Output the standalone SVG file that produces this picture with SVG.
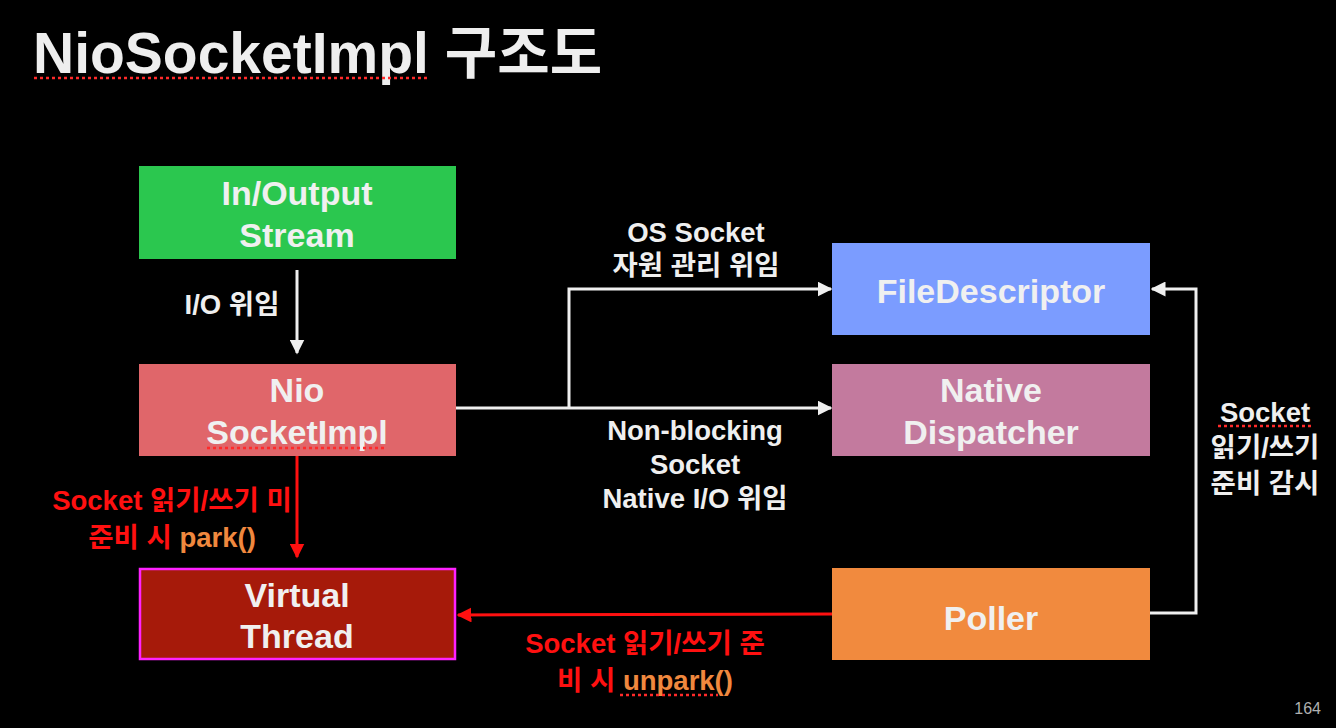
<svg xmlns="http://www.w3.org/2000/svg" width="1336" height="728" viewBox="0 0 1336 728">
<defs>
<style>
text{font-family:"Liberation Sans","Noto Sans CJK KR",sans-serif;font-weight:bold;}
.node{font-size:34px;fill:#f0f0f0;text-anchor:middle;}
.lbl{font-size:27.5px;fill:#efefef;text-anchor:middle;}
.red{font-size:27.5px;fill:#ff1010;text-anchor:middle;}
.org{fill:#f0883e;}
.wline{stroke:#efefef;stroke-width:3;fill:none;}
.rline{stroke:#ff1010;stroke-width:3;fill:none;}
.sq{stroke:#ff2a2a;stroke-width:2.5;stroke-dasharray:3 3;fill:none;}
</style>
<marker id="aw" viewBox="0 0 10 10" refX="9" refY="5" markerWidth="5" markerHeight="5" orient="auto" markerUnits="strokeWidth"><path d="M0,0 L10,5 L0,10 z" fill="#efefef"/></marker>
<marker id="ar" viewBox="0 0 10 10" refX="9" refY="5" markerWidth="5" markerHeight="5" orient="auto" markerUnits="strokeWidth"><path d="M0,0 L10,5 L0,10 z" fill="#ff1010"/></marker>
</defs>
<rect width="1336" height="728" fill="#000"/>
<g id="title">
<text x="33" y="73" style="font-size:57px;fill:#eeeeee">NioSocketImpl 구조도</text>
<line class="sq" x1="34" y1="78" x2="428" y2="78"/>
</g>
<g id="connectors">
<line class="wline" x1="297" y1="270" x2="297" y2="353" marker-end="url(#aw)"/>
<line class="wline" x1="456" y1="408" x2="831" y2="408" marker-end="url(#aw)"/>
<polyline class="wline" points="569,408 569,289 831,289" marker-end="url(#aw)"/>
<polyline class="wline" points="1150,613 1196,613 1196,289 1152,289" marker-end="url(#aw)"/>
<line class="rline" x1="297" y1="456" x2="297" y2="557" marker-end="url(#ar)"/>
<line class="rline" x1="832" y1="614" x2="458" y2="615" marker-end="url(#ar)"/>
</g>
<g id="labels">
<text class="lbl" x="232" y="314">I/O 위임</text>
<text class="lbl" x="696" y="242">OS Socket</text>
<text class="lbl" x="696" y="275">자원 관리 위임</text>
<text class="lbl" x="695" y="440">Non-blocking</text>
<text class="lbl" x="695" y="474">Socket</text>
<text class="lbl" x="695" y="508">Native I/O 위임</text>
<text class="lbl" x="1265" y="422">Socket</text>
<line class="sq" x1="1218" y1="426" x2="1312" y2="426"/>
<text class="lbl" x="1265" y="457">읽기/쓰기</text>
<text class="lbl" x="1265" y="493">준비 감시</text>
<text class="red" x="172" y="510">Socket 읽기/쓰기 미</text>
<text class="red" x="172" y="547">준비 시 <tspan class="org">park()</tspan></text>
<text class="red" x="645" y="653">Socket 읽기/쓰기 준</text>
<text class="red" x="645" y="690">비 시 <tspan class="org">unpark()</tspan></text>
<line class="sq" x1="620" y1="695" x2="718" y2="695"/>
</g>
<g id="node-stream">
<rect x="139" y="166" width="317" height="93" fill="#2bc74f"/>
<text class="node" x="297" y="205">In/Output</text>
<text class="node" x="297" y="247">Stream</text>
</g>
<g id="node-niosocketimpl">
<rect x="139" y="364" width="317" height="92" fill="#e0666a"/>
<text class="node" x="297" y="402">Nio</text>
<text class="node" x="297" y="444">SocketImpl</text>
<line class="sq" x1="207" y1="448" x2="387" y2="448"/>
</g>
<g id="node-virtualthread">
<rect x="140" y="569" width="315" height="90" fill="#a61a0a" stroke="#ff22ff" stroke-width="2.5"/>
<text class="node" x="297" y="607">Virtual</text>
<text class="node" x="297" y="648">Thread</text>
</g>
<g id="node-filedescriptor">
<rect x="832" y="243" width="318" height="92" fill="#7b9cff"/>
<text class="node" x="991" y="303">FileDescriptor</text>
</g>
<g id="node-nativedispatcher">
<rect x="832" y="364" width="318" height="92" fill="#c37a9e"/>
<text class="node" x="991" y="402">Native</text>
<text class="node" x="991" y="444">Dispatcher</text>
</g>
<g id="node-poller">
<rect x="832" y="568" width="318" height="92" fill="#f18a3e"/>
<text class="node" x="991" y="630">Poller</text>
</g>
<text x="1321" y="714" style="font-size:16px;font-weight:normal;fill:#b0b0b0;text-anchor:end">164</text>
</svg>
